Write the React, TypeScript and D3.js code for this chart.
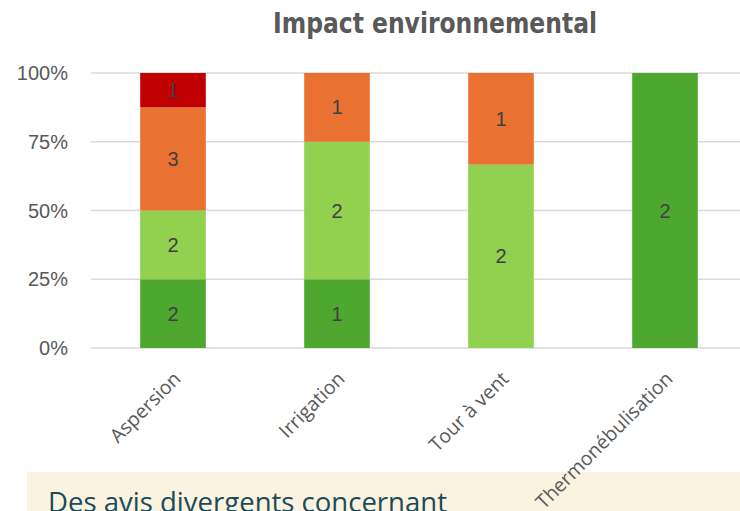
import React from "react";
import * as d3 from "d3";

// Categories and the count of answers per impact level (stacked to 100%)
const categories = ["Aspersion", "Irrigation", "Tour à vent", "Thermonébulisation"];
const seriesNames = ["Très faible", "Faible", "Élevé", "Très élevé"];
const tresFaible = [2, 1, 0, 2];
const faible = [2, 2, 2, 0];
const eleve = [3, 1, 1, 0];
const tresEleve = [1, 0, 0, 0];
const seriesColors = ["#4EA72E", "#92D050", "#E97132", "#C00000"];
const yTicks = [0, 0.25, 0.5, 0.75, 1];

const W = 740;
const H = 511;

export default function App() {
  const series = [tresFaible, faible, eleve, tresEleve];
  const rows = categories.map((c, i) => {
    const row: Record<string, number | string> = { category: c };
    seriesNames.forEach((s, k) => (row[s] = series[k][i]));
    return row;
  });
  const stacked = d3
    .stack<Record<string, number | string>>()
    .keys(seriesNames)
    .offset(d3.stackOffsetExpand)(rows);

  const x = d3.scalePoint<string>().domain(categories).range([91, 747]).padding(0.5);
  const barW = x.step() * 0.4;
  const y = d3.scaleLinear().domain([0, 1]).range([348, 73]);
  const pct = d3.format(".0%");

  return (
    <svg
      width={W}
      height={H}
      style={{ position: "absolute", left: 0, top: 0, background: "#fff" }}
    >
      <rect x={0} y={0} width={W} height={H} fill="#fff" />
      <text
        x={435}
        y={33}
        textAnchor="middle"
        fontFamily="'Liberation Sans Narrow', 'DejaVu Sans Condensed', sans-serif"
        fontWeight="bold"
        fontSize={28}
        fill="#595959"
        textLength={324}
        lengthAdjust="spacingAndGlyphs"
      >
        Impact environnemental
      </text>

      {yTicks.map((t) => (
        <g key={t}>
          <line x1={91} x2={747} y1={y(t)} y2={y(t)} stroke="#D9D9D9" strokeWidth={1.5} />
          <text
            x={68}
            y={y(t)}
            dy="0.35em"
            textAnchor="end"
            fontFamily="'Liberation Sans', Arial, sans-serif"
            fontSize={20}
            fill="#595959"
          >
            {pct(t)}
          </text>
        </g>
      ))}

      {stacked.map((layer, k) => (
        <g key={layer.key}>
          {layer.map((d, i) => {
            const v = series[k][i];
            if (!v) return null;
            const cx = x(categories[i]) as number;
            return (
              <g key={i}>
                <rect
                  x={cx - barW / 2}
                  y={y(d[1])}
                  width={barW}
                  height={y(d[0]) - y(d[1])}
                  fill={seriesColors[k]}
                />
                <text
                  x={cx}
                  y={(y(d[0]) + y(d[1])) / 2}
                  dy="0.35em"
                  textAnchor="middle"
                  fontFamily="'Liberation Sans', Arial, sans-serif"
                  fontSize={20}
                  fill="#404040"
                >
                  {v}
                </text>
              </g>
            );
          })}
        </g>
      ))}

      <rect x={27} y={472} width={W - 27} height={H - 472} fill="#FAF3E0" />
      <text
        x={48}
        y={512}
        fontFamily="'Open Sans', sans-serif"
        fontSize={27.5}
        fill="#1B4A5A"
        textLength={399}
        lengthAdjust="spacingAndGlyphs"
      >
        Des avis divergents concernant
      </text>

      {categories.map((c) => {
        const cx = x(c) as number;
        return (
          <text
            key={c}
            transform={`translate(${cx + 9},380) rotate(-45)`}
            textAnchor="end"
            fontFamily="'Open Sans', sans-serif"
            fontSize={19.5}
            fill="#595959"
          >
            {c}
          </text>
        );
      })}
    </svg>
  );
}
